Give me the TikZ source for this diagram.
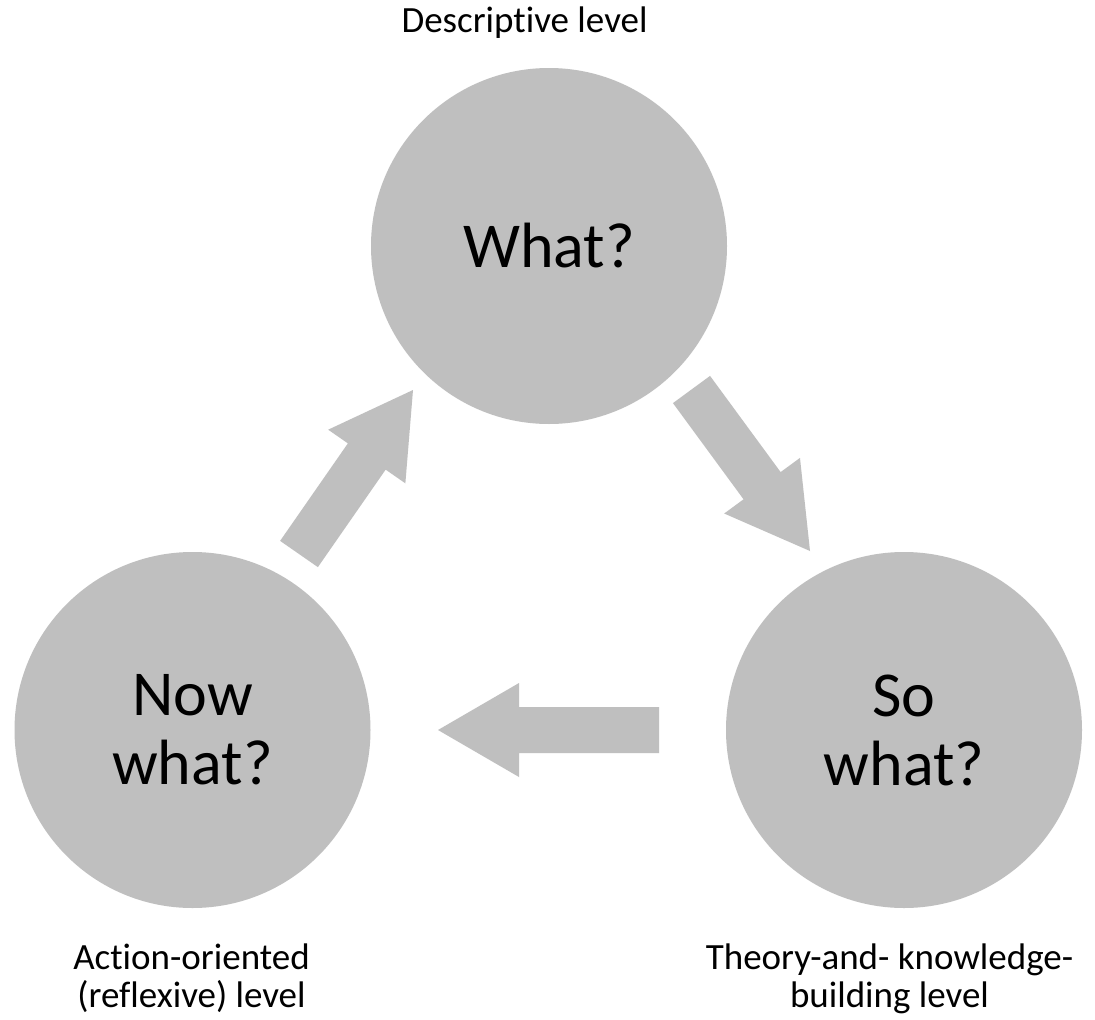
\documentclass[tikz,border=0pt]{standalone}
\usepackage{fontspec}
\setmainfont{Carlito}[Ligatures={NoCommon}]
\usetikzlibrary{calc}
\definecolor{circgray}{HTML}{BFBFBF}
\newcommand\blockarrow[2]{%
  \path ($(#2)!81pt!(#1)$) coordinate (tmpJ);
  \fill[arrowfill] ($(#1)!23pt!90:(#2)$) -- ($(tmpJ)!23pt!90:(#2)$) -- ($(tmpJ)!47pt!90:(#2)$) -- (#2)
    -- ($(tmpJ)!47pt!-90:(#2)$) -- ($(tmpJ)!23pt!-90:(#2)$) -- ($(#1)!23pt!-90:(#2)$) -- cycle;}
\begin{document}
\begin{tikzpicture}[x=1pt,y=-1pt,
  circ/.style={circle,fill=circgray,minimum size=356pt,inner sep=0pt,align=center,
    font=\fontsize{64}{69}\selectfont},
  lbl/.style={align=center,inner sep=0pt,anchor=base,font=\fontsize{37}{38}\selectfont},
  arrowfill/.style={fill=circgray}]
\useasboundingbox[fill=white] (0,0) rectangle (1095,1020);
\node[circ] (what) at (549,246) {What?};
\node[circ] (sowhat) at (904,730) {So\\what?};
\node[circ] (nowwhat) at (192.5,730) {Now\\what?};
\node[lbl] (l1) at (524.5,32) {Descriptive level};
\node[lbl] (l2) at (191.5,1007) {Action-oriented\\(reflexive) level};
\node[lbl] (l3) at (889.5,1007) {Theory-and- knowledge-\\building level};
\coordinate (r1) at (691.5,389.5);
\coordinate (r2) at (810,551);
\coordinate (b1) at (659,730);
\coordinate (b2) at (438,730);
\coordinate (u1) at (299,554);
\coordinate (u2) at (413,390);
\blockarrow{r1}{r2}
\blockarrow{b1}{b2}
\blockarrow{u1}{u2}
\end{tikzpicture}
\end{document}
